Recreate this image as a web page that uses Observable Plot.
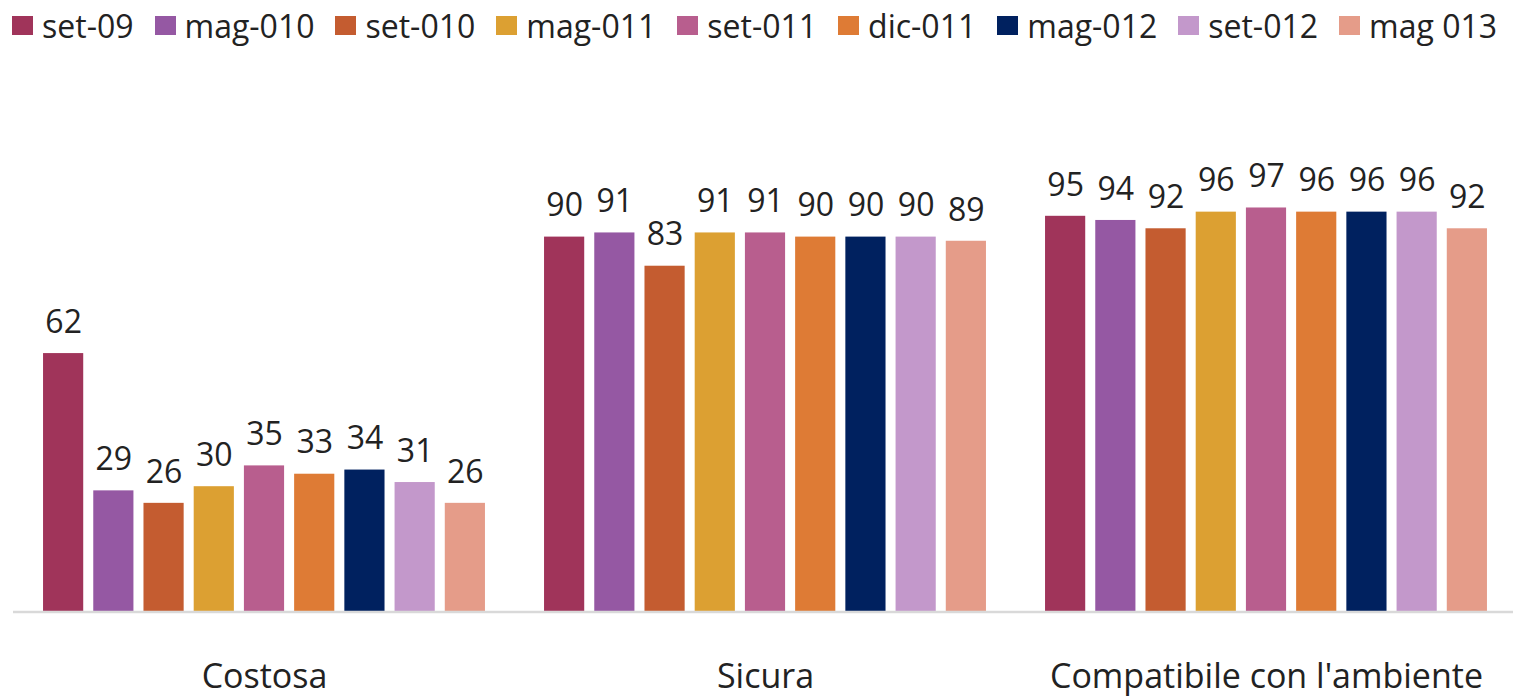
<!DOCTYPE html>
<html>
<head>
<meta charset="utf-8">
<script src="https://cdn.jsdelivr.net/npm/d3@7"></script>
<script src="https://cdn.jsdelivr.net/npm/@observablehq/plot@0.6"></script>
<style>
  html, body { margin: 0; padding: 0; background: #fff; }
  body { width: 1513px; height: 698px; overflow: hidden; font-family: "Open Sans", sans-serif; }
  #legend { height: 50px; display: flex; align-items: center; padding-left: 12px; gap: 21px; font-size: 32px; color: #222; white-space: nowrap; }
  #legend .item { display: flex; align-items: center; gap: 9px; }
  #legend .sw { width: 21px; height: 19px; display: inline-block; }
</style>
</head>
<body>
<div id="legend"></div>
<div id="chart"></div>
<script>
const categories = ["Costosa", "Sicura", "Compatibile con l'ambiente"];
const series = ["set-09", "mag-010", "set-010", "mag-011", "set-011", "dic-011", "mag-012", "set-012", "mag 013"];
const colors = ["#A0345A", "#9558A3", "#C45C30", "#DCA032", "#B85E8E", "#DE7B35", "#00215F", "#C398CB", "#E59C89"];
const costosa = [62, 29, 26, 30, 35, 33, 34, 31, 26];
const sicura = [90, 91, 83, 91, 91, 90, 90, 90, 89];
const compatibile = [95, 94, 92, 96, 97, 96, 96, 96, 92];

const valuesByCat = [costosa, sicura, compatibile];
const rows = [];
categories.forEach((c, i) => series.forEach((s, j) => rows.push({cat: c, ser: s, val: valuesByCat[i][j]})));

// legend
const leg = document.getElementById("legend");
series.forEach((s, j) => {
  const it = document.createElement("div");
  it.className = "item";
  const sw = document.createElement("span");
  sw.className = "sw";
  sw.style.background = colors[j];
  const tx = document.createElement("span");
  tx.textContent = s;
  it.appendChild(sw); it.appendChild(tx);
  leg.appendChild(it);
});

const plot = Plot.plot({
  width: 1513,
  height: 648,
  marginLeft: 33,
  marginRight: 16,
  marginTop: 145,
  marginBottom: 87,
  style: {fontFamily: "Open Sans, sans-serif", fontSize: "34px", color: "#222", background: "#fff"},
  facet: {data: rows, x: "cat"},
  fx: {domain: categories, paddingInner: 0.078, paddingOuter: 0, label: null, axis: "bottom", tickSize: 0, tickPadding: 52},
  x: {domain: series, padding: 0.2, round: false, axis: null},
  y: {domain: [0, 100], axis: null},
  color: {domain: series, range: colors},
  marks: [
    Plot.barY(rows, {x: "ser", y: "val", fill: "ser"}),
    Plot.text(rows, {x: "ser", y: "val", text: d => String(d.val), dy: -31, fontSize: 32, fill: "#222"})
  ]
});
document.getElementById("chart").appendChild(plot);

// baseline (category axis line)
const svg = d3.select(plot.tagName === "svg" ? plot : plot.querySelector("svg"));
const y0 = plot.scale("y").apply(0);
svg.append("line")
  .attr("x1", 13).attr("x2", 1513)
  .attr("y1", y0 + 1).attr("y2", y0 + 1)
  .attr("stroke", "#d9d9d9").attr("stroke-width", 2.5);
</script>
</body>
</html>
